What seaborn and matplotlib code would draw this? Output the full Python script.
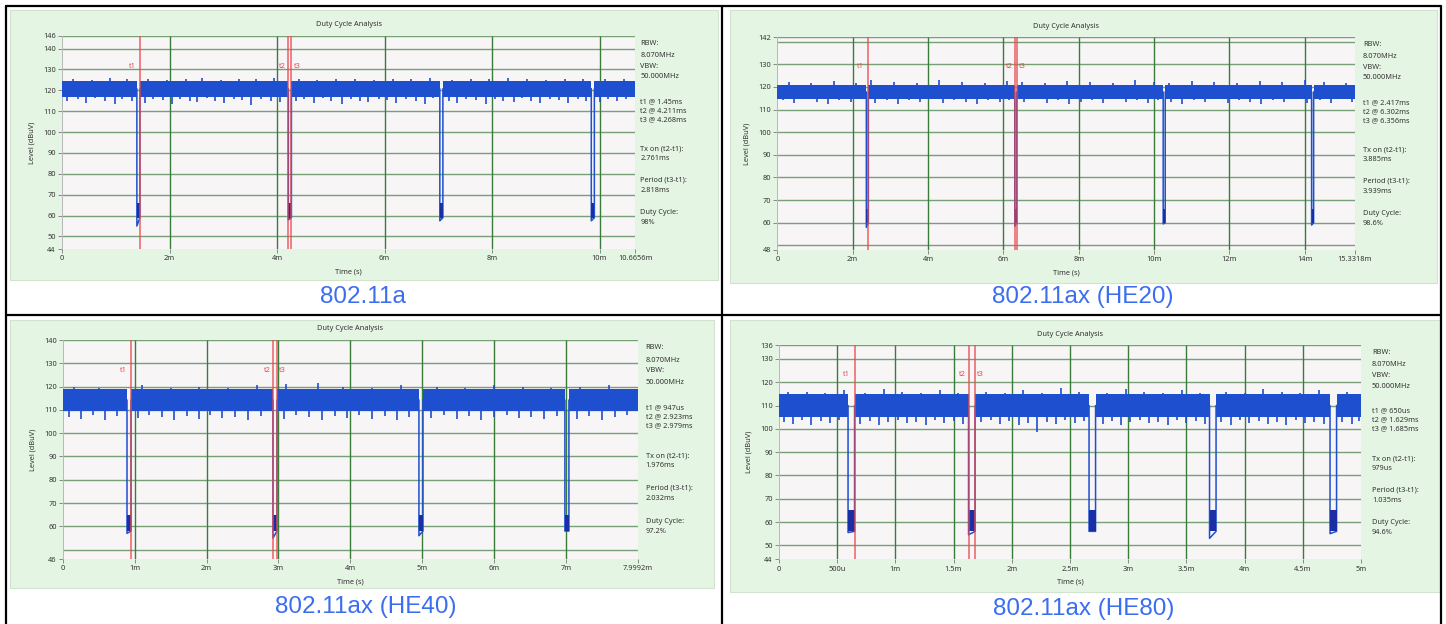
import numpy as np
import pandas as pd
import matplotlib
matplotlib.use("Agg")
import matplotlib.pyplot as plt
import seaborn as sns
from matplotlib.patches import Rectangle
from matplotlib.lines import Line2D
from matplotlib.transforms import blended_transform_factory

sns.set_style("white")
plt.rcParams['font.family'] = ['Noto Sans', 'DejaVu Sans']

W, H = 1446, 624

# ---------------- data ----------------
captions = ["802.11a", "802.11ax (HE20)", "802.11ax (HE40)", "802.11ax (HE80)"]

x_max = [10.6656, 15.3318, 7.9992, 5.0]
y_lim = [(44, 146), (48, 142), (46, 140), (44, 136)]
y_ticks = [
    [44, 50, 60, 70, 80, 90, 100, 110, 120, 130, 140, 146],
    [48, 60, 70, 80, 90, 100, 110, 120, 130, 142],
    [46, 60, 70, 80, 90, 100, 110, 120, 130, 140],
    [44, 50, 60, 70, 80, 90, 100, 110, 120, 130, 136],
]
y_grid = [
    [50, 60, 70, 80, 90, 100, 110, 120, 130, 140, 146],
    [50, 60, 70, 80, 90, 100, 110, 120, 130, 140, 142],
    [50, 60, 70, 80, 90, 100, 110, 120, 130, 140],
    [50, 60, 70, 80, 90, 100, 110, 120, 130, 136],
]
x_ticks = [
    [0, 2, 4, 6, 8, 10, 10.6656],
    [0, 2, 4, 6, 8, 10, 12, 14, 15.3318],
    [0, 1, 2, 3, 4, 5, 6, 7, 7.9992],
    [0, 0.5, 1, 1.5, 2, 2.5, 3, 3.5, 4, 4.5, 5],
]
x_ticklabels = [
    ["0", "2m", "4m", "6m", "8m", "10m", "10.6656m"],
    ["0", "2m", "4m", "6m", "8m", "10m", "12m", "14m", "15.3318m"],
    ["0", "1m", "2m", "3m", "4m", "5m", "6m", "7m", "7.9992m"],
    ["0", "500u", "1m", "1.5m", "2m", "2.5m", "3m", "3.5m", "4m", "4.5m", "5m"],
]
x_grid = [
    [2, 4, 6, 8, 10],
    [2, 4, 6, 8, 10, 12, 14],
    [1, 2, 3, 4, 5, 6, 7],
    [0.5, 1, 1.5, 2, 2.5, 3, 3.5, 4, 4.5],
]

# marker times t1, t2, t3 (ms)
markers = [
    [1.45, 4.211, 4.268],
    [2.417, 6.302, 6.356],
    [0.947, 2.923, 2.979],
    [0.650, 1.629, 1.685],
]
marker_text = [
    ["1.45ms", "4.211ms", "4.268ms"],
    ["2.417ms", "6.302ms", "6.356ms"],
    ["947us", "2.923ms", "2.979ms"],
    ["650us", "1.629ms", "1.685ms"],
]
tx_on = ["2.761ms", "3.885ms", "1.976ms", "979us"]
period = ["2.818ms", "3.939ms", "2.032ms", "1.035ms"]
duty = ["98%", "98.6%", "97.2%", "94.6%"]

# trace: solid level band while transmitting
band = [(117, 124.5), (114.5, 121), (109.5, 119), (105, 115)]
# off gaps (dips)
dip_start = [
    [1.393, 4.211, 7.029, 9.847],
    [2.363, 6.302, 10.241, 14.180],
    [0.891, 2.923, 4.955, 6.987],
    [0.594, 1.629, 2.664, 3.699, 4.734],
]
dip_end = [
    [1.450, 4.268, 7.086, 9.904],
    [2.417, 6.356, 10.295, 14.234],
    [0.947, 2.979, 5.011, 7.043],
    [0.650, 1.685, 2.720, 3.755, 4.790],
]
dip_floor = [
    [55, 58, 57.5, 57.5],
    [58, 58.5, 59.5, 59],
    [57, 55, 56, 58],
    [55.5, 54.5, 56, 53, 55],
]
dip_core = [(59, 66), (60, 66), (58, 65), (56, 65)]

# noise spikes below / above the band
spike_dn_t = [
    [0.1, 0.3, 0.45, 0.62, 0.8, 0.98, 1.12, 1.3,
     1.55, 1.7, 1.88, 2.05, 2.2, 2.38, 2.52, 2.7, 2.85, 3.02, 3.2, 3.35, 3.52, 3.7, 3.88, 4.05,
     4.35, 4.5, 4.68, 4.85, 5.0, 5.2, 5.38, 5.55, 5.7, 5.9, 6.05, 6.22, 6.4, 6.58, 6.75, 6.9,
     7.2, 7.35, 7.52, 7.7, 7.88, 8.05, 8.2, 8.4, 8.55, 8.72, 8.9, 9.08, 9.25, 9.42, 9.6, 9.75,
     10.0, 10.15, 10.32, 10.5],
    [0.15, 0.45, 0.75, 1.05, 1.35, 1.65, 1.95, 2.25,
     2.6, 2.9, 3.2, 3.5, 3.8, 4.1, 4.4, 4.7, 5.0, 5.3, 5.6, 5.9, 6.15,
     6.55, 6.85, 7.15, 7.45, 7.75, 8.05, 8.35, 8.65, 8.95, 9.25, 9.55, 9.85, 10.1,
     10.45, 10.75, 11.05, 11.35, 11.65, 11.95, 12.25, 12.55, 12.85, 13.15, 13.45, 13.75, 14.05,
     14.4, 14.7, 15.0, 15.25],
    [0.08, 0.25, 0.42, 0.58, 0.75,
     1.05, 1.2, 1.38, 1.55, 1.72, 1.9, 2.05, 2.22, 2.4, 2.58, 2.75,
     3.08, 3.25, 3.42, 3.6, 3.78, 3.95, 4.12, 4.3, 4.48, 4.65, 4.82,
     5.12, 5.3, 5.48, 5.65, 5.82, 6.0, 6.18, 6.35, 6.52, 6.7, 6.88,
     7.15, 7.32, 7.5, 7.68, 7.85],
    [0.04, 0.12, 0.2, 0.28, 0.36, 0.44, 0.52,
     0.7, 0.78, 0.86, 0.94, 1.02, 1.1, 1.18, 1.26, 1.34, 1.42, 1.5, 1.58,
     1.74, 1.82, 1.9, 1.98, 2.06, 2.14, 2.22, 2.3, 2.38, 2.46, 2.54, 2.62,
     2.78, 2.86, 2.94, 3.02, 3.1, 3.18, 3.26, 3.34, 3.42, 3.5, 3.58, 3.66,
     3.8, 3.88, 3.96, 4.04, 4.12, 4.2, 4.28, 4.36, 4.44, 4.52, 4.6, 4.68,
     4.84, 4.92, 4.98],
]
spike_dn_v = [
    [115, 116, 114, 116.5, 115, 113.5, 116, 115,
     114, 116, 115.5, 113.5, 116, 115, 114.5, 116.5, 115, 114, 116, 115.5, 113, 116, 115, 114.5,
     115, 116, 114, 116.5, 115, 113.5, 116, 115, 114.5, 116, 115.5, 114, 116, 115, 113.5, 116.5,
     115, 114, 116, 115.5, 113.5, 116, 115, 114.5, 116.5, 115, 114, 116, 115.5, 114, 116, 115,
     114.5, 116, 115, 116],
    [114, 113, 114.5, 113.5, 112.5, 114, 113.5, 114.5,
     113, 114, 112.5, 114, 113.5, 114.5, 113, 114, 113.5, 112.5, 114, 113.5, 114,
     113.5, 114.5, 113, 114, 112.5, 113.5, 114, 113, 114.5, 113.5, 114, 113, 114,
     113.5, 112.5, 114, 113.5, 114.5, 113, 114, 113.5, 112.5, 114, 113.5, 114.5, 113,
     114, 113, 114.5, 113.5],
    [107, 106, 108, 105.5, 107.5,
     106.5, 108, 107, 105.5, 107.5, 106, 108, 106.5, 107, 105.5, 107.5,
     106, 108, 107, 105.5, 107.5, 106.5, 108, 106, 107.5, 105.5, 107,
     106.5, 108, 106, 107.5, 105.5, 107, 108, 106.5, 107, 106, 107.5,
     106, 107.5, 105.5, 107, 108],
    [103, 102, 104, 101.5, 103.5, 102.5, 104,
     102, 103.5, 101.5, 103, 104, 102.5, 103, 101.5, 104, 102.5, 103.5, 102,
     103, 104, 102, 103.5, 101.5, 102.5, 98.5, 103, 102, 104, 102.5, 103.5,
     102, 103.5, 101.5, 103, 104, 102.5, 103, 101.5, 104, 102.5, 103.5, 102,
     103, 101.5, 104, 102.5, 103.5, 102, 103, 101.5, 104, 102.5, 103, 102,
     103, 102, 103.5],
]
spike_up_t = [
    [0.2, 0.55, 0.9, 1.2, 1.6, 1.95, 2.3, 2.6, 2.95, 3.3, 3.6, 3.95,
     4.4, 4.75, 5.1, 5.45, 5.8, 6.15, 6.5, 6.85, 7.25, 7.6, 7.95, 8.3, 8.65, 9.0, 9.35, 9.7,
     10.1, 10.45],
    [0.3, 0.9, 1.5, 2.1, 2.5, 3.1, 3.7, 4.3, 4.9, 5.5, 6.1,
     6.5, 7.1, 7.7, 8.3, 8.9, 9.5, 10.0, 10.4, 11.0, 11.6, 12.2, 12.8, 13.4, 14.0,
     14.5, 15.1],
    [0.15, 0.5, 1.1, 1.5, 1.9, 2.3, 2.7, 3.1, 3.55, 3.9, 4.3, 4.7,
     5.2, 5.6, 6.0, 6.4, 6.8, 7.2, 7.6],
    [0.08, 0.24, 0.4, 0.56, 0.74, 0.9, 1.06, 1.22, 1.38, 1.54,
     1.78, 1.94, 2.1, 2.26, 2.42, 2.58, 2.82, 2.98, 3.14, 3.3, 3.46, 3.62,
     3.84, 4.0, 4.16, 4.32, 4.48, 4.64, 4.88],
]
spike_up_v = [
    [125.5, 125, 126, 125.5, 125.5, 125, 125.5, 126, 125, 125.5, 125.5, 126,
     125.5, 125, 125.5, 125.5, 125, 125.5, 125.5, 126, 125, 125.5, 125.5, 126, 125.5, 125, 125.5, 125.5,
     125.5, 125.5],
    [122, 121.5, 122.5, 121.5, 123, 122, 121.5, 123, 122, 121.5, 122.5,
     122, 121.5, 122.5, 122, 121.5, 123, 122, 121.5, 122.5, 122, 121.5, 122.5, 122, 123,
     122, 121.5],
    [120, 119.5, 120.5, 119.5, 120, 119.5, 120.5, 121, 121.5, 120, 119.5, 120.5,
     120, 119.5, 120.5, 120, 119.5, 120, 120.5],
    [116, 116, 115.5, 116.5, 115.5, 117, 116, 115.5, 116.5, 115.5,
     116, 115.5, 116.5, 115.5, 117.5, 116, 115.5, 117, 116, 115.5, 116.5, 115.5,
     116, 115.5, 117, 116, 115.5, 116.5, 116],
]

# ---------------- layout (pixels) ----------------
axes_px = [(62, 635.3, 36, 249), (777.3, 1355, 37, 250),
           (63, 637.6, 340, 559), (778.9, 1361, 345, 559.3)]
green_px = [(10, 718, 10, 280), (730, 1437, 10, 283),
            (10, 714, 320, 588), (730, 1440, 320, 592)]
caption_px = [(363, 297), (1083, 297), (366, 607), (1084, 609)]
info_dx = [5, 8, 8, 11]
info_frac = [0.035, 0.092, 0.141, 0.192, 0.308, 0.35, 0.393,
             0.53, 0.574, 0.676, 0.724, 0.83, 0.875]

BLUE = '#1e4fcf'
NAVY = '#1a2fa6'
RED = '#e8484b'
GREEN_BG = '#e5f5e3'
PLOT_BG = '#f8f5f6'
VGRID = '#3a7d3a'
HGRID = '#77a077'
FS = 5.3

fig = plt.figure(figsize=(W / 100, H / 100), dpi=100)
fig.patch.set_facecolor('white')


def fx(x):
    return x / W


def fy(y):
    return 1 - y / H


for i in range(4):
    gx0, gx1, gy0, gy1 = green_px[i]
    fig.add_artist(Rectangle((fx(gx0), fy(gy1)), fx(gx1 - gx0), (gy1 - gy0) / H,
                             transform=fig.transFigure, facecolor=GREEN_BG,
                             edgecolor='#cfe3cd', lw=0.8, zorder=0))

    l, r, t, b = axes_px[i]
    ax = fig.add_axes([fx(l), fy(b), fx(r - l), (b - t) / H])
    ax.set_facecolor(PLOT_BG)
    xm = x_max[i]
    y0, y1 = y_lim[i]
    ax.set_xlim(0, xm)
    ax.set_ylim(y0, y1)

    # grid
    ax.hlines(y_grid[i], 0, xm, color=HGRID, lw=1.0, zorder=1)
    ax.vlines(x_grid[i], y0, y1, color=VGRID, lw=1.0, zorder=1)

    lo, hi = band[i]
    mid = (lo + hi) / 2
    # on-segments band
    seg_s = [0] + dip_end[i]
    seg_e = dip_start[i] + [xm]
    for s, e in zip(seg_s, seg_e):
        ax.fill_between([s, e], [lo, lo], [hi, hi], color=BLUE, lw=0, zorder=3)
    # noise spikes
    n = min(len(spike_dn_t[i]), len(spike_dn_v[i]))
    ax.vlines(spike_dn_t[i][:n], spike_dn_v[i][:n], lo + 1, color=BLUE, lw=1.2, zorder=3)
    n = min(len(spike_up_t[i]), len(spike_up_v[i]))
    ax.vlines(spike_up_t[i][:n], hi - 1, spike_up_v[i][:n], color=BLUE, lw=1.2, zorder=3)

    # trace polyline through the dips
    cl, ch = dip_core[i]
    xs, ys = [0], [mid]
    for s, e, fl in zip(dip_start[i], dip_end[i], dip_floor[i]):
        xs += [s, s, s, e, e]
        ys += [mid, ch, fl, cl, mid]
    xs.append(xm)
    ys.append(mid)
    df = pd.DataFrame({'t': xs, 'v': ys})
    sns.lineplot(data=df, x='t', y='v', sort=False, estimator=None,
                 color=BLUE, lw=1.1, ax=ax, zorder=3)
    for s, e in zip(dip_start[i], dip_end[i]):
        ax.fill_between([s, e], [cl, cl], [ch, ch], color=NAVY, lw=0, zorder=4)

    # markers
    ax.vlines(markers[i], y0, y1, color=RED, lw=1.1, alpha=0.85, zorder=5)
    trans = blended_transform_factory(ax.transData, ax.transAxes)
    m1, m2, m3 = markers[i]
    ly = 1 - 30 / (b - t)
    off = 0.004 * xm
    ax.text(m1 - 2 * off, ly, 't1', color=RED, fontsize=FS, ha='right', va='center', transform=trans)
    ax.text(m2 - off, ly, 't2', color=RED, fontsize=FS, ha='right', va='center', transform=trans)
    ax.text(m3 + off, ly, 't3', color=RED, fontsize=FS, ha='left', va='center', transform=trans)

    # ticks
    ax.set_xticks(x_ticks[i])
    ax.set_xticklabels(x_ticklabels[i])
    ax.set_yticks(y_ticks[i])
    ax.set_yticklabels([str(v) for v in y_ticks[i]])
    ax.tick_params(labelsize=FS, length=3, width=0.7, color='#888888',
                   labelcolor='#333333', pad=1.5, bottom=True, left=True)
    for sp in ['top', 'right', 'bottom']:
        ax.spines[sp].set_visible(False)
    ax.spines['left'].set_color('#b8b8b8')
    ax.spines['left'].set_linewidth(0.7)
    ax.set_xlabel('')
    ax.set_ylabel('')

    # labels and title
    fig.text(fx((l + r) / 2), fy(t - 11), 'Duty Cycle Analysis', fontsize=FS,
             ha='center', va='center', color='#333333')
    fig.text(fx((l + r) / 2), fy(b + 23), 'Time (s)', fontsize=FS,
             ha='center', va='center', color='#333333')
    fig.text(fx(l - 30), fy((t + b) / 2), 'Level (dBuV)', fontsize=FS,
             ha='center', va='center', rotation=90, color='#333333')

    # info text
    lines = ["RBW:", "8.070MHz", "VBW:", "50.000MHz",
             f"t1 @ {marker_text[i][0]}", f"t2 @ {marker_text[i][1]}", f"t3 @ {marker_text[i][2]}",
             "Tx on (t2-t1):", tx_on[i], "Period (t3-t1):", period[i],
             "Duty Cycle:", duty[i]]
    for txt, fr in zip(lines, info_frac):
        fig.text(fx(r + info_dx[i]), fy(t + fr * (b - t)), txt, fontsize=FS,
                 ha='left', va='center', color='#333333')

    # caption
    cx, cy = caption_px[i]
    fig.text(fx(cx), fy(cy), captions[i], fontsize=17.5, color='#3a6df0',
             ha='center', va='center', family=['Liberation Sans', 'DejaVu Sans'])

# table borders
for (x0, y0_, x1, y1_) in [(6, 6, 1441, 6), (6, 6, 6, 624), (1441, 6, 1441, 624),
                           (721.5, 6, 721.5, 624), (6, 314.5, 1441, 314.5)]:
    fig.add_artist(Line2D([fx(x0), fx(x1)], [fy(y0_), fy(y1_)], color='black',
                          lw=1.6, transform=fig.transFigure, zorder=10))

fig.savefig('out.png', dpi=100, facecolor='white')
